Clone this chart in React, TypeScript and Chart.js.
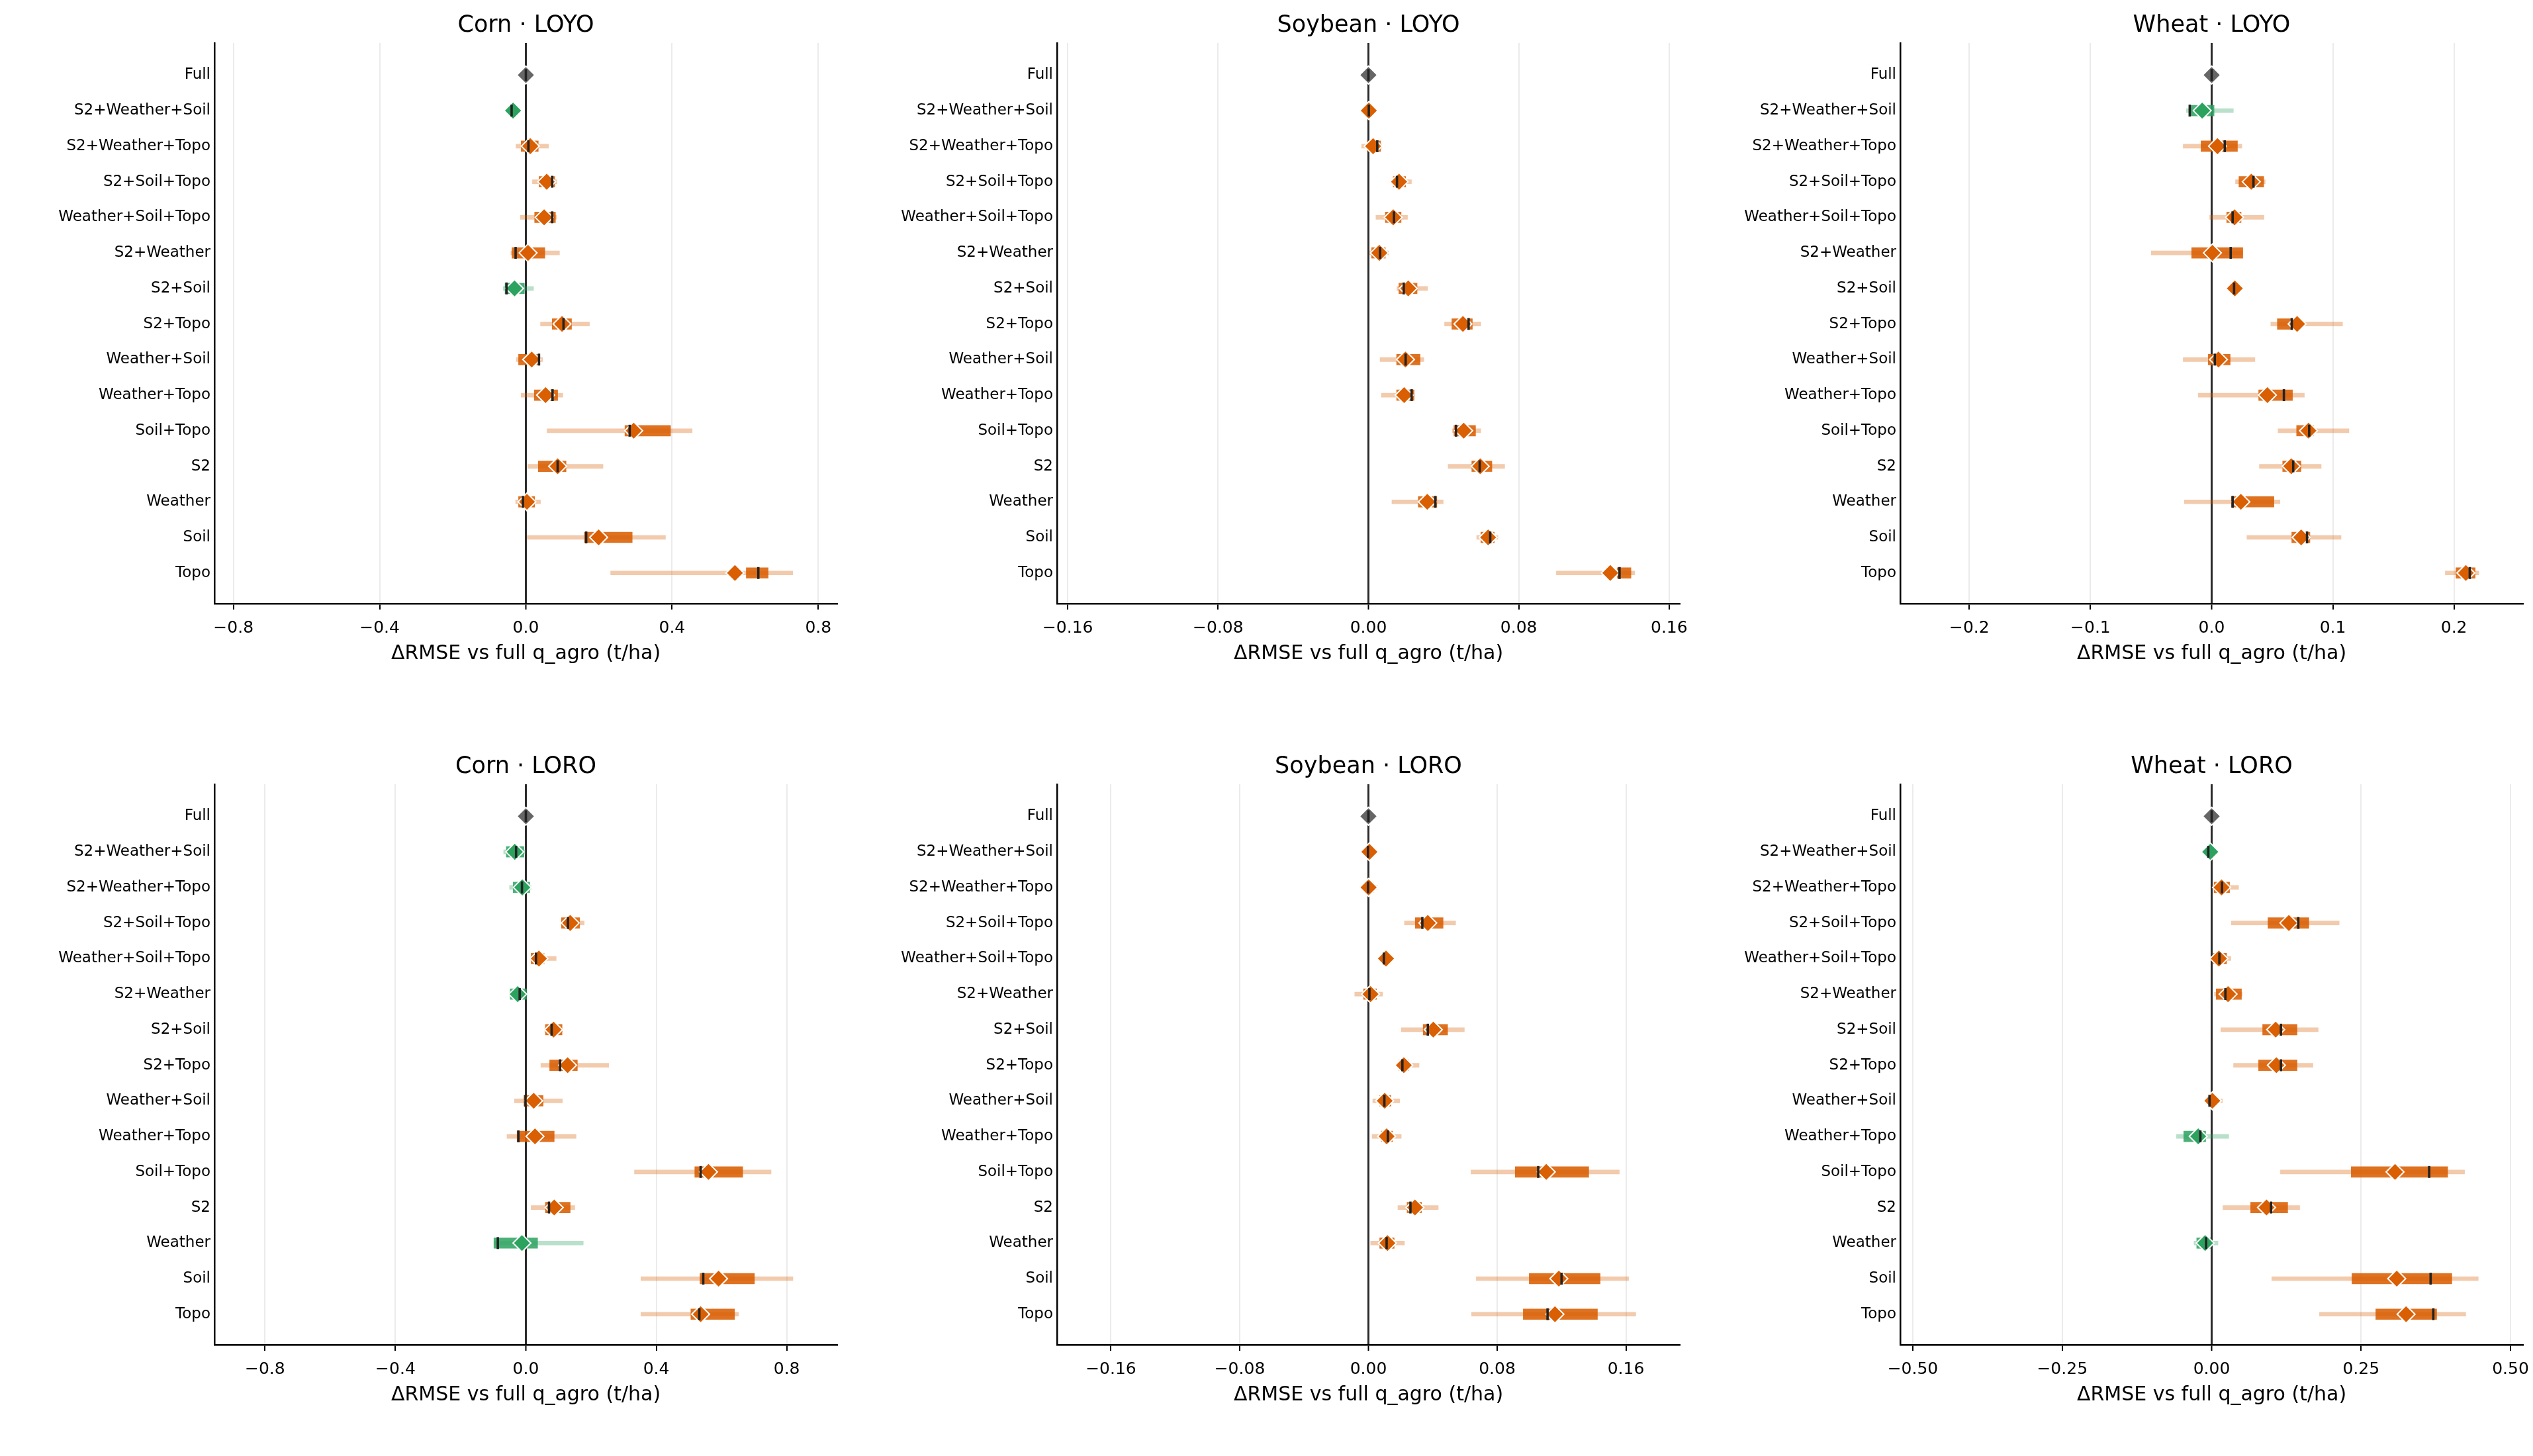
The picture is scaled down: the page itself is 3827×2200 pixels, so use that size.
import React, { useEffect, useRef } from 'react';
import { Chart, registerables } from 'chart.js';

Chart.register(...registerables);
Chart.defaults.font.family = "'DejaVu Sans', sans-serif";
Chart.defaults.color = '#000';

const categories = [
  'Full', 'S2+Weather+Soil', 'S2+Weather+Topo', 'S2+Soil+Topo', 'Weather+Soil+Topo',
  'S2+Weather', 'S2+Soil', 'S2+Topo', 'Weather+Soil', 'Weather+Topo',
  'Soil+Topo', 'S2', 'Weather', 'Soil', 'Topo',
];

const xAxisLabel = 'ΔRMSE vs full q_agro (t/ha)';

// ---------- Corn · LOYO ----------
const cornLoyoWhiskerLo = [0, -0.046, -0.027, 0.018, -0.015, -0.041, -0.062, 0.040, -0.026, -0.013, 0.058, 0.005, -0.028, 0.003, 0.232];
const cornLoyoWhiskerHi = [0, -0.026, 0.062, 0.085, 0.084, 0.092, 0.021, 0.174, 0.046, 0.101, 0.455, 0.211, 0.040, 0.382, 0.730];
const cornLoyoBoxLo = [0, -0.041, -0.013, 0.036, 0.024, -0.038, -0.057, 0.072, -0.020, 0.023, 0.271, 0.034, -0.020, 0.160, 0.603];
const cornLoyoBoxHi = [0, -0.031, 0.034, 0.079, 0.081, 0.052, -0.004, 0.125, 0.037, 0.087, 0.396, 0.110, 0.024, 0.291, 0.663];
const cornLoyoMedian = [0, -0.039, 0.007, 0.072, 0.072, -0.028, -0.053, 0.103, 0.036, 0.073, 0.284, 0.087, -0.008, 0.165, 0.636];
const cornLoyoMean = [0, -0.035, 0.012, 0.057, 0.050, 0.006, -0.031, 0.099, 0.016, 0.054, 0.295, 0.087, 0.003, 0.199, 0.572];
const cornLoyoTicks = [-0.8, -0.4, 0, 0.4, 0.8];
const cornLoyoTickLabels = ['−0.8', '−0.4', '0.0', '0.4', '0.8'];

// ---------- Soybean · LOYO ----------
const soyLoyoWhiskerLo = [0, -0.001, -0.0036, 0.0126, 0.0040, 0.0000, 0.0152, 0.0405, 0.0062, 0.0069, 0.0447, 0.0424, 0.0125, 0.0576, 0.1000];
const soyLoyoWhiskerHi = [0, 0.002, 0.0070, 0.0229, 0.0208, 0.0107, 0.0315, 0.0598, 0.0295, 0.0243, 0.0598, 0.0725, 0.0398, 0.0689, 0.1417];
const soyLoyoBoxLo = [0, -0.0005, -0.0007, 0.0132, 0.0090, 0.0017, 0.0162, 0.0444, 0.0150, 0.0150, 0.0455, 0.0550, 0.0265, 0.0598, 0.1324];
const soyLoyoBoxHi = [0, 0.0012, 0.0065, 0.0198, 0.0174, 0.0090, 0.0259, 0.0553, 0.0275, 0.0243, 0.0570, 0.0657, 0.0364, 0.0670, 0.1397];
const soyLoyoMedian = [0, 0.0002, 0.0047, 0.0152, 0.0136, 0.0062, 0.0188, 0.0533, 0.0198, 0.0230, 0.0466, 0.0592, 0.0356, 0.0648, 0.1336];
const soyLoyoMean = [0, 0.0002, 0.0025, 0.0163, 0.0132, 0.0058, 0.0212, 0.0503, 0.0197, 0.0190, 0.0507, 0.0595, 0.0313, 0.0637, 0.1287];
const soyTicks = [-0.16, -0.08, 0, 0.08, 0.16];
const soyTickLabels = ['−0.16', '−0.08', '0.00', '0.08', '0.16'];

// ---------- Wheat · LOYO ----------
const wheatLoyoWhiskerLo = [0, -0.0209, -0.0235, 0.0197, -0.0016, -0.0498, 0.0160, 0.0488, -0.0235, -0.0110, 0.0548, 0.0394, -0.0225, 0.0291, 0.1928];
const wheatLoyoWhiskerHi = [0, 0.0179, 0.0249, 0.0442, 0.0432, 0.0257, 0.0220, 0.1080, 0.0357, 0.0765, 0.1133, 0.0904, 0.0564, 0.1068, 0.2205];
const wheatLoyoBoxLo = [0, -0.0179, -0.0088, 0.0225, 0.0124, -0.0165, 0.0170, 0.0542, -0.0028, 0.0388, 0.0701, 0.0586, 0.0163, 0.0661, 0.2016];
const wheatLoyoBoxHi = [0, 0.0020, 0.0213, 0.0430, 0.0243, 0.0257, 0.0210, 0.0721, 0.0153, 0.0667, 0.0840, 0.0737, 0.0514, 0.0811, 0.2175];
const wheatLoyoMedian = [0, -0.0181, 0.0108, 0.0345, 0.0173, 0.0157, 0.0185, 0.0661, 0.0026, 0.0596, 0.0805, 0.0673, 0.0173, 0.0787, 0.2130];
const wheatLoyoMean = [0, -0.0078, 0.0048, 0.0327, 0.0189, 0.0006, 0.0191, 0.0705, 0.0056, 0.0460, 0.0799, 0.0657, 0.0241, 0.0739, 0.2098];
const wheatLoyoTicks = [-0.2, -0.1, 0, 0.1, 0.2];
const wheatLoyoTickLabels = ['−0.2', '−0.1', '0.0', '0.1', '0.2'];

// ---------- Corn · LORO ----------
const cornLoroWhiskerLo = [0, -0.068, -0.050, 0.109, 0.015, -0.050, 0.058, 0.046, -0.035, -0.058, 0.333, 0.016, -0.098, 0.353, 0.353];
const cornLoroWhiskerHi = [0, -0.001, 0.016, 0.179, 0.093, 0.004, 0.112, 0.254, 0.112, 0.154, 0.752, 0.150, 0.176, 0.819, 0.652];
const cornLoroBoxLo = [0, -0.060, -0.039, 0.109, 0.016, -0.048, 0.060, 0.073, -0.006, -0.027, 0.518, 0.060, -0.098, 0.534, 0.506];
const cornLoroBoxHi = [0, -0.006, 0.012, 0.165, 0.056, 0.002, 0.111, 0.158, 0.053, 0.087, 0.665, 0.136, 0.036, 0.701, 0.640];
const cornLoroMedian = [0, -0.030, -0.012, 0.129, 0.031, -0.019, 0.079, 0.105, -0.001, -0.023, 0.536, 0.071, -0.086, 0.544, 0.532];
const cornLoroMean = [0, -0.034, -0.011, 0.136, 0.040, -0.025, 0.085, 0.128, 0.024, 0.028, 0.560, 0.087, -0.012, 0.591, 0.536];
const cornLoroTicks = [-0.8, -0.4, 0, 0.4, 0.8];
const cornLoroTickLabels = ['−0.8', '−0.4', '0.0', '0.4', '0.8'];

// ---------- Soybean · LORO ----------
const soyLoroWhiskerLo = [0, -0.0008, -0.0008, 0.0224, 0.0085, -0.0085, 0.0204, 0.0176, 0.0027, 0.0023, 0.0637, 0.0183, 0.0014, 0.0670, 0.0641];
const soyLoroWhiskerHi = [0, 0.0020, 0.0055, 0.0542, 0.0135, 0.0088, 0.0596, 0.0315, 0.0194, 0.0204, 0.1559, 0.0434, 0.0224, 0.1617, 0.1661];
const soyLoroBoxLo = [0, -0.0004, -0.0005, 0.0291, 0.0090, -0.0030, 0.0340, 0.0190, 0.0070, 0.0080, 0.0912, 0.0240, 0.0070, 0.0999, 0.0962];
const soyLoroBoxHi = [0, 0.0015, 0.0030, 0.0464, 0.0130, 0.0050, 0.0492, 0.0250, 0.0140, 0.0150, 0.1369, 0.0330, 0.0160, 0.1440, 0.1423];
const soyLoroMedian = [0, -0.0003, -0.0002, 0.0335, 0.0096, 0.0006, 0.0369, 0.0211, 0.0099, 0.0121, 0.1055, 0.0261, 0.0113, 0.1200, 0.1113];
const soyLoroMean = [0, 0.0006, 0.0001, 0.0369, 0.0109, 0.0013, 0.0403, 0.0220, 0.0101, 0.0113, 0.1105, 0.0289, 0.0118, 0.1183, 0.1159];

// ---------- Wheat · LORO ----------
const wheatLoroWhiskerLo = [0, -0.008, 0.0008, 0.033, -0.001, 0.0048, 0.0153, 0.0366, -0.008, -0.0588, 0.1151, 0.0189, -0.0294, 0.1006, 0.1804];
const wheatLoroWhiskerHi = [0, 0.002, 0.0451, 0.2134, 0.0322, 0.0511, 0.1783, 0.1695, 0.018, 0.0286, 0.4231, 0.1473, 0.0105, 0.4460, 0.4251];
const wheatLoroBoxLo = [0, -0.007, 0.004, 0.0942, 0.003, 0.0076, 0.0853, 0.0785, -0.006, -0.0467, 0.2335, 0.0652, -0.025, 0.2347, 0.2746];
const wheatLoroBoxHi = [0, 0.000, 0.030, 0.1626, 0.025, 0.0499, 0.1429, 0.1429, 0.008, -0.010, 0.3949, 0.1272, 0.000, 0.4018, 0.3764];
const wheatLoroMedian = [0, -0.0056, 0.0173, 0.1449, 0.0129, 0.023, 0.1159, 0.1159, -0.0036, -0.0189, 0.3639, 0.0994, -0.0093, 0.3663, 0.3708];
const wheatLoroMean = [0, -0.0024, 0.0165, 0.1292, 0.0121, 0.0274, 0.1071, 0.1083, 0.0012, -0.0225, 0.3068, 0.0918, -0.0109, 0.3096, 0.3253];
const wheatLoroTicks = [-0.5, -0.25, 0, 0.25, 0.5];
const wheatLoroTickLabels = ['−0.50', '−0.25', '0.00', '0.25', '0.50'];

type Panel = {
  title: string; row: number; col: number; limit: number;
  wLo: number[]; wHi: number[]; bLo: number[]; bHi: number[]; med: number[]; mean: number[];
  ticks: number[]; tickLabels: string[];
};

const panels: Panel[] = [
  { title: 'Corn · LOYO', row: 0, col: 0, limit: 0.852, wLo: cornLoyoWhiskerLo, wHi: cornLoyoWhiskerHi, bLo: cornLoyoBoxLo, bHi: cornLoyoBoxHi, med: cornLoyoMedian, mean: cornLoyoMean, ticks: cornLoyoTicks, tickLabels: cornLoyoTickLabels },
  { title: 'Soybean · LOYO', row: 0, col: 1, limit: 0.1657, wLo: soyLoyoWhiskerLo, wHi: soyLoyoWhiskerHi, bLo: soyLoyoBoxLo, bHi: soyLoyoBoxHi, med: soyLoyoMedian, mean: soyLoyoMean, ticks: soyTicks, tickLabels: soyTickLabels },
  { title: 'Wheat · LOYO', row: 0, col: 2, limit: 0.257, wLo: wheatLoyoWhiskerLo, wHi: wheatLoyoWhiskerHi, bLo: wheatLoyoBoxLo, bHi: wheatLoyoBoxHi, med: wheatLoyoMedian, mean: wheatLoyoMean, ticks: wheatLoyoTicks, tickLabels: wheatLoyoTickLabels },
  { title: 'Corn · LORO', row: 1, col: 0, limit: 0.955, wLo: cornLoroWhiskerLo, wHi: cornLoroWhiskerHi, bLo: cornLoroBoxLo, bHi: cornLoroBoxHi, med: cornLoroMedian, mean: cornLoroMean, ticks: cornLoroTicks, tickLabels: cornLoroTickLabels },
  { title: 'Soybean · LORO', row: 1, col: 1, limit: 0.1935, wLo: soyLoroWhiskerLo, wHi: soyLoroWhiskerHi, bLo: soyLoroBoxLo, bHi: soyLoroBoxHi, med: soyLoroMedian, mean: soyLoroMean, ticks: soyTicks, tickLabels: soyTickLabels },
  { title: 'Wheat · LORO', row: 1, col: 2, limit: 0.521, wLo: wheatLoroWhiskerLo, wHi: wheatLoroWhiskerHi, bLo: wheatLoroBoxLo, bHi: wheatLoroBoxHi, med: wheatLoroMedian, mean: wheatLoroMean, ticks: wheatLoroTicks, tickLabels: wheatLoroTickLabels },
];

const FIG_W = 3827;
const FIG_H = 2200;
const AXES_LEFT = [324, 1597, 2871];
const ROW_TOP = [0, 1120];
const Y_AXIS_W = 324;
const PLOT_W = 941;
const RIGHT_PAD = 40;
const CANVAS_W = Y_AXIS_W + PLOT_W + RIGHT_PAD;
const CANVAS_H = 1120;
const X_AXIS_H = 208;

const ORANGE = '#d95f02';
const ORANGE_BOX = 'rgba(217,95,2,0.88)';
const ORANGE_WHISKER = 'rgba(217,95,2,0.33)';
const GREEN = '#2ca25f';
const GREEN_BOX = 'rgba(44,162,95,0.85)';
const GREEN_WHISKER = 'rgba(44,162,95,0.33)';
const GREY = '#666666';

function PanelChart({ panel }: { panel: Panel }) {
  const ref = useRef<HTMLCanvasElement>(null);
  useEffect(() => {
    if (!ref.current) return;
    const neg = (i: number) => panel.mean[i] < 0;
    const idx = categories.map((_, i) => i);
    const chart = new Chart(ref.current, {
      type: 'bar',
      data: {
        datasets: [
          {
            type: 'scatter',
            data: idx.map((i) => ({ x: panel.med[i], y: i })),
            pointStyle: 'line',
            pointRotation: 90,
            pointRadius: 9,
            pointBorderWidth: 3.6,
            pointBorderColor: '#222222',
            order: 0,
          } as any,
          {
            type: 'scatter',
            data: idx.map((i) => ({ x: panel.mean[i], y: i })),
            pointStyle: 'rectRot',
            pointRadius: 13.5,
            pointBorderWidth: 2,
            pointBorderColor: '#ffffff',
            pointBackgroundColor: (ctx: any) => (ctx.dataIndex === 0 ? GREY : neg(ctx.dataIndex) ? GREEN : ORANGE),
            order: 1,
          } as any,
          {
            type: 'bar',
            data: idx.map((i) => ({ x: [panel.bLo[i], panel.bHi[i]], y: i })),
            barThickness: 16,
            grouped: false,
            borderWidth: 0,
            backgroundColor: (ctx: any) => (neg(ctx.dataIndex) ? GREEN_BOX : ORANGE_BOX),
            order: 2,
          } as any,
          {
            type: 'bar',
            data: idx.map((i) => ({ x: [panel.wLo[i], panel.wHi[i]], y: i })),
            barThickness: 6,
            grouped: false,
            borderWidth: 0,
            backgroundColor: (ctx: any) => (neg(ctx.dataIndex) ? GREEN_WHISKER : ORANGE_WHISKER),
            order: 3,
          } as any,
        ],
      },
      options: {
        indexAxis: 'y',
        responsive: false,
        animation: false,
        devicePixelRatio: 1,
        events: [],
        layout: { padding: { left: 0, right: RIGHT_PAD, top: 0, bottom: 0 } },
        plugins: {
          legend: { display: false },
          tooltip: { enabled: false },
          title: {
            display: true,
            text: panel.title,
            fullSize: false,
            color: '#000',
            font: { size: 35, weight: 'normal' },
            padding: { top: 18, bottom: 5 },
          },
        },
        scales: {
          x: {
            type: 'linear',
            min: -panel.limit,
            max: panel.limit,
            bounds: 'data',
            offset: false,
            afterBuildTicks: (s: any) => {
              s.ticks = panel.ticks.map((v) => ({ value: v }));
            },
            afterFit: (s: any) => {
              s.height = X_AXIS_H;
            },
            ticks: {
              callback: (_v: any, i: number) => panel.tickLabels[i],
              font: { size: 25 },
              color: '#000',
              padding: 13,
              maxRotation: 0,
              autoSkip: false,
            },
            grid: {
              offset: false,
              color: (ctx: any) => (ctx.tick && ctx.tick.value === 0 ? '#2b2b2b' : '#ebebeb'),
              lineWidth: (ctx: any) => (ctx.tick && ctx.tick.value === 0 ? 3 : 2),
              drawTicks: true,
              tickLength: 9,
              tickColor: '#000',
              tickWidth: 2,
            },
            border: { display: true, color: '#000', width: 2.5 },
            title: {
              display: true,
              text: xAxisLabel,
              color: '#000',
              font: { size: 30 },
              padding: { top: 0, bottom: 114 },
            },
          },
          y: {
            type: 'linear',
            reverse: true,
            min: -0.9,
            max: 14.86,
            bounds: 'data',
            offset: false,
            afterBuildTicks: (s: any) => {
              s.ticks = categories.map((_, i) => ({ value: i }));
            },
            afterFit: (s: any) => {
              s.width = Y_AXIS_W;
            },
            ticks: {
              callback: (_v: any, i: number) => categories[i],
              font: { size: 23 },
              color: '#000',
              padding: 6,
              autoSkip: false,
            },
            grid: { display: false, drawTicks: false, offset: false },
            border: { display: true, color: '#000', width: 2.5 },
          },
        },
      } as any,
    });
    return () => chart.destroy();
  }, [panel]);

  return (
    <canvas
      ref={ref}
      width={CANVAS_W}
      height={CANVAS_H}
      style={{
        position: 'absolute',
        left: AXES_LEFT[panel.col] - Y_AXIS_W,
        top: ROW_TOP[panel.row],
        width: CANVAS_W,
        height: CANVAS_H,
      }}
    />
  );
}

export default function App() {
  return (
    <div
      style={{
        position: 'absolute',
        left: 0,
        top: 0,
        width: FIG_W,
        height: FIG_H,
        overflow: 'hidden',
        background: '#ffffff',
      }}
    >
      {panels.map((p, k) => (
        <PanelChart key={k} panel={p} />
      ))}
    </div>
  );
}
